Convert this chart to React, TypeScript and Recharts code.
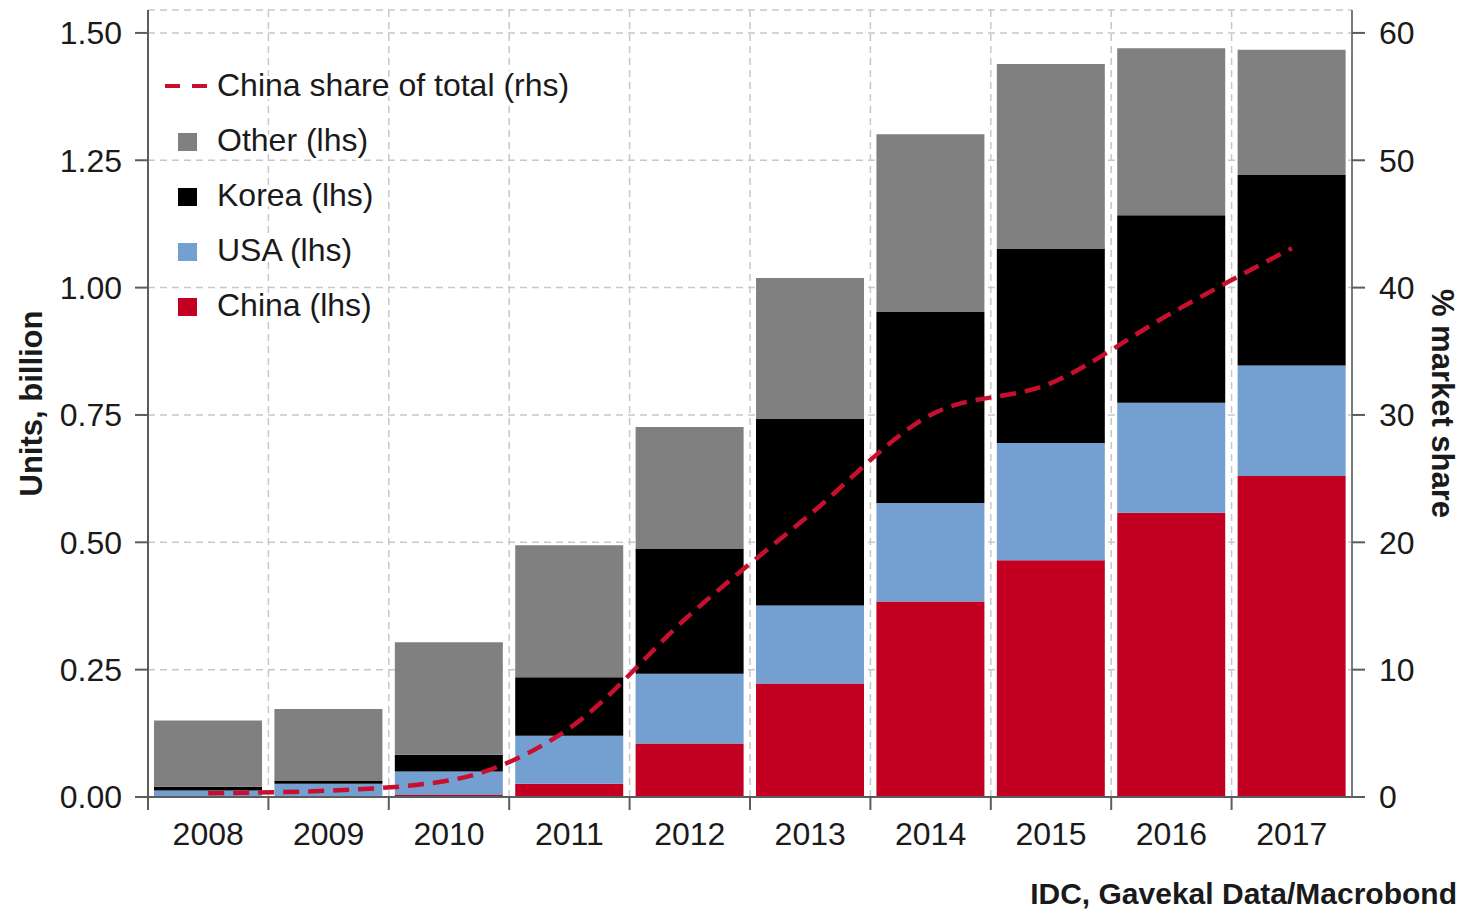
import React from 'react';
import { ComposedChart, Bar, Line, XAxis, YAxis, CartesianGrid } from 'recharts';

// ---------- data ----------
const YEARS = ['2008', '2009', '2010', '2011', '2012', '2013', '2014', '2015', '2016', '2017'];
const CHINA = [0.001, 0.001, 0.004, 0.026, 0.105, 0.223, 0.384, 0.465, 0.558, 0.63];
const USA = [0.012, 0.025, 0.046, 0.094, 0.137, 0.153, 0.193, 0.23, 0.216, 0.217];
const KOREA = [0.007, 0.0055, 0.033, 0.115, 0.246, 0.366, 0.376, 0.382, 0.368, 0.374];
const OTHER = [0.13, 0.1415, 0.221, 0.259, 0.2385, 0.277, 0.348, 0.362, 0.328, 0.246];
const CHINA_SHARE = [0.3, 0.5, 1.3, 5.4, 14.3, 22.2, 30.0, 32.5, 38.0, 43.1];
const LEFT_TICKS = [0, 0.25, 0.5, 0.75, 1, 1.25, 1.5];
const RIGHT_TICKS = [0, 10, 20, 30, 40, 50, 60];
const LEFT_MAX = 1.545;
const RIGHT_MAX = 61.8;

const LEGEND_ITEMS = [
  { name: 'China share of total (rhs)', kind: 'line', color: '#C8102E' },
  { name: 'Other (lhs)', kind: 'box', color: '#808080' },
  { name: 'Korea (lhs)', kind: 'box', color: '#000000' },
  { name: 'USA (lhs)', kind: 'box', color: '#739FD1' },
  { name: 'China (lhs)', kind: 'box', color: '#C40022' },
];
const AXIS_LEFT_TITLE = 'Units, billion';
const AXIS_RIGHT_TITLE = '% market share';
const SOURCE = 'IDC, Gavekal Data/Macrobond';

const data = YEARS.map((year, i) => ({
  year,
  china: CHINA[i],
  usa: USA[i],
  korea: KOREA[i],
  other: OTHER[i],
  share: CHINA_SHARE[i],
}));

// ---------- layout / style ----------
const W = 1467;
const H = 915;
const LEFT_W = 148;
const RIGHT_W = 115;
const TOP = 10;
const XAXIS_H = 118;
const PLOT_W = W - LEFT_W - RIGHT_W;
const FONT = '"Liberation Sans", Arial, sans-serif';
const TEXT = '#1a1a1a';
const AXIS = '#5c5c5c';
const GRID = '#c8c8c8';
const FS = 32;

const XTick = (props: any) => {
  const { x, y, payload } = props;
  const bw = PLOT_W / YEARS.length;
  return (
    <g>
      <line x1={x - bw / 2} x2={x - bw / 2} y1={y} y2={y + 13} stroke={AXIS} strokeWidth={2} />
      <text x={x} y={y + 48} textAnchor="middle" fontSize={FS} fill={TEXT} fontFamily={FONT}>
        {payload.value}
      </text>
    </g>
  );
};

const vGen = (args: any) => {
  const o = args && args.offset ? args.offset : { left: LEFT_W, width: PLOT_W };
  return YEARS.slice(1).map((_, i) => o.left + ((i + 1) * o.width) / YEARS.length);
};

export default function App() {
  const legendBase = 96;
  const legendStep = 55;
  return (
    <div style={{ position: 'absolute', left: 0, top: 0, width: W, height: H, background: '#fff' }}>
      <ComposedChart
        width={W}
        height={H}
        data={data}
        margin={{ top: TOP, right: 0, bottom: 0, left: 0 }}
        barCategoryGap="5%"
      >
        <CartesianGrid
          xAxisId="main"
          yAxisId="left"
          stroke={GRID}
          strokeWidth={1.5}
          strokeDasharray="7 5"
          verticalCoordinatesGenerator={vGen}
        />
        <XAxis
          xAxisId="main"
          dataKey="year"
          height={XAXIS_H}
          interval={0}
          tickSize={0}
          tickMargin={0}
          tickLine={false}
          axisLine={{ stroke: AXIS, strokeWidth: 2 }}
          tick={<XTick />}
        />
        <XAxis
          xAxisId="top"
          dataKey="year"
          orientation="top"
          height={0}
          tick={false}
          tickLine={false}
          axisLine={{ stroke: '#8a8a8a', strokeWidth: 2 }}
        />
        <YAxis
          yAxisId="left"
          width={LEFT_W}
          domain={[0, LEFT_MAX]}
          ticks={LEFT_TICKS}
          interval={0}
          tickFormatter={(v: number) => v.toFixed(2)}
          tickSize={13}
          tickMargin={13}
          axisLine={{ stroke: AXIS, strokeWidth: 2 }}
          tickLine={{ stroke: AXIS, strokeWidth: 2 }}
          tick={{ fontSize: FS, fill: TEXT, fontFamily: FONT }}
        />
        <YAxis
          yAxisId="right"
          orientation="right"
          width={RIGHT_W}
          domain={[0, RIGHT_MAX]}
          ticks={RIGHT_TICKS}
          interval={0}
          tickSize={13}
          tickMargin={14}
          axisLine={{ stroke: '#7a7a7a', strokeWidth: 2 }}
          tickLine={{ stroke: AXIS, strokeWidth: 2 }}
          tick={{ fontSize: FS, fill: TEXT, fontFamily: FONT }}
        />
        <Bar xAxisId="main" yAxisId="left" dataKey="china" stackId="s" fill={LEGEND_ITEMS[4].color} isAnimationActive={false} />
        <Bar xAxisId="main" yAxisId="left" dataKey="usa" stackId="s" fill={LEGEND_ITEMS[3].color} isAnimationActive={false} />
        <Bar xAxisId="main" yAxisId="left" dataKey="korea" stackId="s" fill={LEGEND_ITEMS[2].color} isAnimationActive={false} />
        <Bar xAxisId="main" yAxisId="left" dataKey="other" stackId="s" fill={LEGEND_ITEMS[1].color} isAnimationActive={false} />
        <Line
          xAxisId="main"
          yAxisId="right"
          dataKey="share"
          type="monotone"
          stroke={LEGEND_ITEMS[0].color}
          strokeWidth={4.5}
          strokeDasharray="16 9"
          dot={false}
          activeDot={false}
          isAnimationActive={false}
        />
      </ComposedChart>
      <svg
        width={W}
        height={H}
        style={{ position: 'absolute', left: 0, top: 0, pointerEvents: 'none' }}
        fontFamily={FONT}
      >
        {LEGEND_ITEMS.map((it, i) => {
          const by = legendBase + i * legendStep;
          return (
            <g key={it.name}>
              {it.kind === 'line' ? (
                <line x1={165} x2={208} y1={by - 10} y2={by - 10} stroke={it.color} strokeWidth={4} strokeDasharray="15 12" />
              ) : (
                <rect x={178} y={by - 18} width={19} height={18} fill={it.color} />
              )}
              <text
                x={217}
                y={by}
                fontSize={FS}
                fill={TEXT}
                stroke="#fff"
                strokeWidth={6}
                paintOrder="stroke"
                strokeLinejoin="round"
              >
                {it.name}
              </text>
            </g>
          );
        })}
        <text
          x={0}
          y={0}
          transform={`translate(31, ${TOP + (H - TOP - XAXIS_H) / 2}) rotate(-90)`}
          textAnchor="middle"
          dominantBaseline="central"
          fontSize={31}
          fontWeight="bold"
          fill={TEXT}
        >
          {AXIS_LEFT_TITLE}
        </text>
        <text
          x={0}
          y={0}
          transform={`translate(1442, ${TOP + (H - TOP - XAXIS_H) / 2}) rotate(90)`}
          textAnchor="middle"
          dominantBaseline="central"
          fontSize={31}
          fontWeight="bold"
          fill={TEXT}
        >
          {AXIS_RIGHT_TITLE}
        </text>
        <text x={1457} y={904} textAnchor="end" fontSize={30} fontWeight="bold" fill={TEXT}>
          {SOURCE}
        </text>
      </svg>
    </div>
  );
}
